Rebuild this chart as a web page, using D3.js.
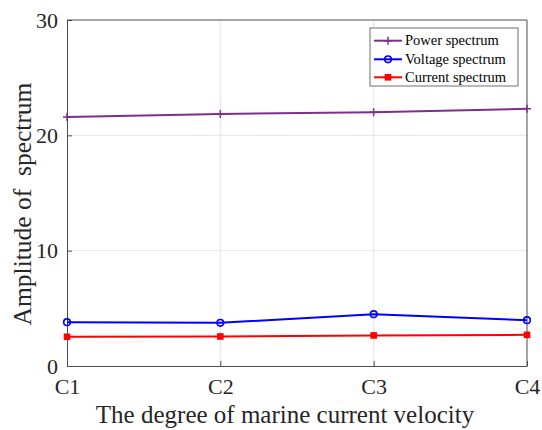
<!DOCTYPE html>
<html><head><meta charset="utf-8">
<script src="https://cdn.jsdelivr.net/npm/d3@7"></script>
<style>body{margin:0;background:#fff}</style>
</head><body>
<svg id="c" width="542" height="430"></svg>
<script>
const categories = ["C1","C2","C3","C4"];
const powerSpectrum = [21.6, 21.85, 22.0, 22.3];
const voltageSpectrum = [3.8, 3.74, 4.49, 3.97];
const currentSpectrum = [2.53, 2.56, 2.65, 2.7];
const yTicks = [0, 10, 20, 30];
const seriesNames = ["Power spectrum","Voltage spectrum","Current spectrum"];
const seriesColors = ["#7E2F8E","#0000FF","#FF0000"];
const seriesMarkers = ["plus","circle","square"];

const svg = d3.select("#c");
const L = 67, R = 527, T = 20, B = 366;
const font = "Liberation Serif";
const x = d3.scalePoint().domain(categories).range([L, R]);
const y = d3.scaleLinear().domain([0, 30]).range([B, T]);

// grid
svg.append("g").selectAll("line.gx").data(categories.slice(1, -1)).join("line")
  .attr("x1", d => x(d)).attr("x2", d => x(d)).attr("y1", T).attr("y2", B)
  .attr("stroke", "#e6e6e6").attr("stroke-width", 1);
svg.append("g").selectAll("line.gy").data(yTicks.slice(1, -1)).join("line")
  .attr("x1", L).attr("x2", R).attr("y1", d => y(d)).attr("y2", d => y(d))
  .attr("stroke", "#e6e6e6").attr("stroke-width", 1);

// axes
const xa = svg.append("g").attr("transform", `translate(0,${B})`)
  .call(d3.axisBottom(x).tickSizeInner(-5).tickSizeOuter(0).tickPadding(12));
const ya = svg.append("g").attr("transform", `translate(${L},0)`)
  .call(d3.axisLeft(y).tickValues(yTicks).tickSizeInner(-5).tickSizeOuter(0).tickPadding(9));
[xa, ya].forEach(a => {
  a.select(".domain").attr("stroke", "#4d4d4d");
  a.selectAll(".tick line").attr("stroke", "#4d4d4d");
  a.selectAll("text").attr("font-family", font).attr("font-size", 22).attr("fill", "#262626");
});
// top & right box
svg.append("line").attr("x1", L).attr("x2", R).attr("y1", T).attr("y2", T).attr("stroke", "#4d4d4d");
svg.append("line").attr("x1", R).attr("x2", R).attr("y1", T).attr("y2", B).attr("stroke", "#4d4d4d");

// titles
svg.append("text").attr("x", 285).attr("y", 423).attr("text-anchor", "middle")
  .attr("font-family", font).attr("font-size", 25).attr("fill", "#262626")
  .text("The degree of marine current velocity");
svg.append("text").attr("transform", `translate(31,204) rotate(-90)`)
  .attr("text-anchor", "middle").attr("font-family", font).attr("font-size", 25.5)
  .attr("fill", "#262626")
  .text("Amplitude of\u00A0\u00A0spectrum");

const data = [powerSpectrum, voltageSpectrum, currentSpectrum];
const line = d3.line().x((d, i) => x(categories[i])).y(d => y(d));

function marker(g, type, cx, cy, color) {
  if (type === "plus") {
    g.append("path").attr("d", `M${cx - 4},${cy}H${cx + 4}M${cx},${cy - 4}V${cy + 4}`)
      .attr("stroke", color).attr("stroke-width", 1.5);
  } else if (type === "circle") {
    g.append("circle").attr("cx", cx).attr("cy", cy).attr("r", 3.3)
      .attr("fill", "none").attr("stroke", color).attr("stroke-width", 1.6);
  } else {
    g.append("rect").attr("x", cx - 3.3).attr("y", cy - 3.3).attr("width", 6.6).attr("height", 6.6)
      .attr("fill", color);
  }
}

data.forEach((vals, s) => {
  const g = svg.append("g");
  g.append("path").datum(vals).attr("d", line).attr("fill", "none")
    .attr("stroke", seriesColors[s]).attr("stroke-width", 2);
  vals.forEach((v, i) => marker(g, seriesMarkers[s], x(categories[i]), y(v), seriesColors[s]));
});

// legend
const lg = svg.append("g");
lg.append("rect").attr("x", 370).attr("y", 28).attr("width", 148).attr("height", 58)
  .attr("fill", "#fff").attr("stroke", "#4d4d4d").attr("stroke-width", 0.8);
const ly = [40.7, 59.3, 77.3];
seriesNames.forEach((n, s) => {
  lg.append("line").attr("x1", 374).attr("x2", 402).attr("y1", ly[s]).attr("y2", ly[s])
    .attr("stroke", seriesColors[s]).attr("stroke-width", 2);
  marker(lg, seriesMarkers[s], 388, ly[s], seriesColors[s]);
  lg.append("text").attr("x", 405).attr("y", ly[s] + 4.5).attr("font-family", font)
    .attr("font-size", 14.5).attr("fill", "#000").text(n);
});
</script>
</body></html>
